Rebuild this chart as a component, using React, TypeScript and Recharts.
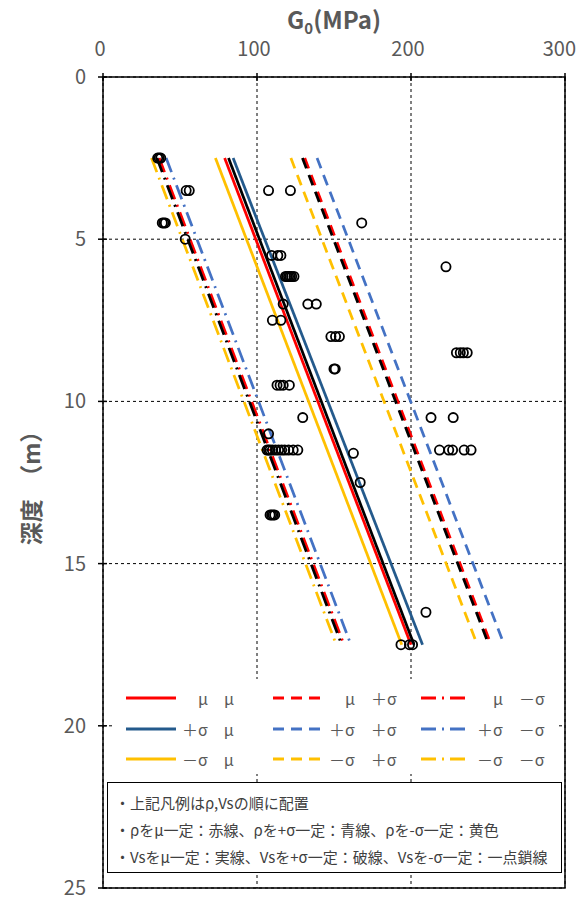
import React from "react";
import { ScatterChart, Scatter, XAxis, YAxis, CartesianGrid, ReferenceArea } from "recharts";

const X_TICKS = [0, 100, 200, 300];
const Y_TICKS = [0, 5, 10, 15, 20, 25];

// 各ケースの直線 (深度 2.5m と 17.5m の G0)
const LINE_DEPTH = [2.5, 17.5];
const G0_YELLOW_SOLID = [73, 194];
const G0_BLUE_SOLID = [84.5, 207.5];
const G0_RED_SOLID = [79, 200];
const G0_BLACK_SOLID = [81.5, 202];
const G0_YELLOW_DASH = [122, 243];
const G0_BLUE_DASH = [139, 260.5];
const G0_RED_DASH = [131, 252];
const G0_BLACK_DASH = [129.5, 250.5];
const G0_YELLOW_DASHDOT = [31.5, 151.5];
const G0_BLUE_DASHDOT = [41, 161];
const G0_RED_DASHDOT = [36.5, 156.5];
const G0_BLACK_DASHDOT = [35, 155];

// 実測値 (深度, G0)
const OBS_DEPTH = [
  2.5, 2.5, 2.5,
  3.5, 3.5, 3.5, 3.5,
  4.5, 4.5, 4.5, 4.5,
  5.0,
  5.5, 5.5, 5.5,
  5.85,
  6.15, 6.15, 6.15, 6.15, 6.15, 6.15,
  7.0, 7.0, 7.0,
  7.5, 7.5,
  8.0, 8.0, 8.0,
  8.5, 8.5, 8.5, 8.5,
  9.0, 9.0,
  9.5, 9.5, 9.5, 9.5,
  10.5, 10.5, 10.5,
  11.0,
  11.5, 11.5, 11.5, 11.5, 11.5, 11.5, 11.5, 11.5, 11.5, 11.5, 11.5,
  11.5, 11.5, 11.5, 11.5, 11.5,
  11.6,
  12.5,
  13.5, 13.5, 13.5, 13.5,
  16.5,
  17.5, 17.5, 17.5,
];
const OBS_G0 = [
  35.5, 36.5, 37.5,
  54, 56, 107.5, 121.7,
  38.5, 39.5, 40.5, 168,
  53.4,
  109.5, 113.5, 115.5,
  222.7,
  118.5, 119.5, 120.5, 121.5, 122.5, 124,
  117, 133, 138.5,
  110, 115.5,
  148, 151, 153.5,
  229.5, 232, 234, 236.5,
  150, 150.8,
  113, 115, 117, 121,
  129.7, 213, 227.4,
  107.5,
  106.5, 107.5, 108.5, 110, 112, 114, 116, 118, 120.5, 123.5, 126.5,
  218.5, 224.5, 227, 234.5, 239,
  162.6,
  167,
  108.5, 109.5, 110.5, 111.5,
  209.7,
  193.5, 199, 201,
];

const RED = "#ff0000";
const BLUE_DARK = "#245a8c";
const BLUE = "#4472c4";
const YELLOW = "#ffc000";
const BLACK = "#000000";
const DASH = "11 7";
const DASHDOT = "15 6 2 6";

const LINES = [
  { key: "ys", g0: G0_YELLOW_SOLID, color: YELLOW, dash: undefined },
  { key: "rs", g0: G0_RED_SOLID, color: RED, dash: undefined },
  { key: "ks", g0: G0_BLACK_SOLID, color: BLACK, dash: undefined },
  { key: "bs", g0: G0_BLUE_SOLID, color: BLUE_DARK, dash: undefined },
  { key: "yd", g0: G0_YELLOW_DASH, color: YELLOW, dash: DASH },
  { key: "bd", g0: G0_BLUE_DASH, color: BLUE, dash: DASH },
  { key: "rd", g0: G0_RED_DASH, color: RED, dash: DASH },
  { key: "kd", g0: G0_BLACK_DASH, color: BLACK, dash: DASH },
  { key: "ydd", g0: G0_YELLOW_DASHDOT, color: YELLOW, dash: DASHDOT },
  { key: "bdd", g0: G0_BLUE_DASHDOT, color: BLUE, dash: DASHDOT },
  { key: "rdd", g0: G0_RED_DASHDOT, color: RED, dash: DASHDOT },
  { key: "kdd", g0: G0_BLACK_DASHDOT, color: BLACK, dash: DASHDOT },
];

const LEGEND_ROWS = [
  [
    { label: "　μ　μ", color: RED, dash: undefined },
    { label: "　μ　＋σ", color: RED, dash: DASH },
    { label: "　μ　－σ", color: RED, dash: DASHDOT },
  ],
  [
    { label: "＋σ　μ", color: BLUE_DARK, dash: undefined },
    { label: "＋σ　＋σ", color: BLUE, dash: DASH },
    { label: "＋σ　－σ", color: BLUE, dash: DASHDOT },
  ],
  [
    { label: "－σ　μ", color: YELLOW, dash: undefined },
    { label: "－σ　＋σ", color: YELLOW, dash: DASH },
    { label: "－σ　－σ", color: YELLOW, dash: DASHDOT },
  ],
];

const NOTES = [
  "・上記凡例はρ,Vsの順に配置",
  "・ρをμ一定：赤線、ρを+σ一定：青線、ρを-σ一定：黄色",
  "・Vsをμ一定：実線、Vsを+σ一定：破線、Vsを-σ一定：一点鎖線",
];

const FONT = '"Noto Sans CJK JP", "Noto Sans", sans-serif';
const GREY = "#595959";

const obsData = OBS_DEPTH.map((d, i) => ({ d, g: OBS_G0[i] }));

const XTick = (p: any) => {
  // 右端のラベルは枠内に収まるよう右寄せ
  const last = p.payload.value === X_TICKS[X_TICKS.length - 1];
  return (
    <g>
      <line x1={p.x} x2={p.x} y1={p.y - 4} y2={p.y + 4} stroke="#000" strokeWidth={1.5} />
      <text x={last ? p.x + 11 : p.x - 3} y={p.y - 21} textAnchor={last ? "end" : "middle"} fontSize={20} fill={GREY} fontFamily={FONT}>
        {p.payload.value}
      </text>
    </g>
  );
};

const YTick = (p: any) => (
  <g>
    <line x1={p.x - 5} x2={p.x + 4} y1={p.y} y2={p.y} stroke="#000" strokeWidth={1.5} />
    <text x={p.x - 17} y={p.y + 7} textAnchor="end" fontSize={20} fill={GREY} fontFamily={FONT}>
      {p.payload.value}
    </text>
  </g>
);

const XTitle = (p: any) => {
  const vb = p.viewBox ?? { x: 103, y: 37, width: 462, height: 40 };
  return (
    <text x={vb.x + vb.width / 2} y={vb.y - 8} textAnchor="middle" fontSize={24} fontWeight="bold" fill={GREY} fontFamily={FONT}>
      G<tspan fontSize={15} dy={5}>0</tspan><tspan dy={-5}>(MPa)</tspan>
    </text>
  );
};

const YTitle = (p: any) => {
  const vb = p.viewBox ?? { x: 43, y: 77, width: 60, height: 811 };
  const cx = vb.x - 13;
  const cy = vb.y + vb.height / 2;
  return (
    <text x={cx} y={cy} transform={`rotate(-90 ${cx} ${cy})`} textAnchor="middle" dominantBaseline="central"
      fontSize={23} fontWeight="bold" fill={GREY} fontFamily={FONT}>
      深度　（m）
    </text>
  );
};

const OpenCircle = (p: any) => (
  <circle cx={p.cx} cy={p.cy} r={4.6} fill="none" stroke="#000" strokeWidth={1.8} />
);

const NoShape = () => <g />;

function Swatch({ color, dash }: { color: string; dash?: string }) {
  return (
    <svg width={50} height={10} style={{ display: "block", flex: "none" }}>
      <line x1={0} y1={5} x2={50} y2={5} stroke={color} strokeWidth={3} strokeDasharray={dash} />
    </svg>
  );
}

export default function App() {
  return (
    <div style={{ position: "absolute", left: 0, top: 0, width: 577, height: 900, background: "#fff", fontFamily: FONT }}>
      <ScatterChart width={577} height={900} margin={{ top: 37, right: 12, bottom: 12, left: 43 }}>
        <CartesianGrid stroke="#000" strokeDasharray="3 3" strokeWidth={1} />
        <XAxis type="number" dataKey="g" orientation="top" domain={[0, 300]} ticks={X_TICKS} interval={0}
          height={40} tickSize={0} tickMargin={0} axisLine={false} tickLine={false}
          tick={(p: any) => <XTick {...p} />} label={<XTitle />} allowDataOverflow />
        <YAxis type="number" dataKey="d" reversed domain={[0, 25]} ticks={Y_TICKS} interval={0}
          width={60} tickSize={0} tickMargin={0} axisLine={false} tickLine={false}
          tick={(p: any) => <YTick {...p} />} label={<YTitle />} allowDataOverflow />
        <ReferenceArea x1={0} x2={300} y1={0} y2={25} fill="none" fillOpacity={0} stroke="#000" strokeWidth={1.5} ifOverflow="visible" />
        {LINES.map(s => (
          <Scatter key={s.key} data={LINE_DEPTH.map((d, i) => ({ d, g: s.g0[i] }))} fill={s.color}
            line={{ stroke: s.color, strokeWidth: 2.75, strokeDasharray: s.dash }} shape={NoShape}
            isAnimationActive={false} legendType="none" />
        ))}
        <Scatter data={obsData} shape={OpenCircle} fill="#000" isAnimationActive={false} />
      </ScatterChart>

      <div style={{ position: "absolute", left: 113, top: 679, width: 445, height: 95, background: "#fff", paddingTop: 4, boxSizing: "border-box" }}>
        {LEGEND_ROWS.map((row, r) => (
          <div key={r} style={{ display: "flex", height: 30.5, alignItems: "center", paddingLeft: 13 }}>
            {row.map((it, c) => (
              <div key={c} style={{ display: "flex", alignItems: "center", width: c === 0 ? 147 : c === 1 ? 148 : 130 }}>
                <Swatch color={it.color} dash={it.dash} />
                <span style={{ marginLeft: 6, fontSize: 16, color: GREY, whiteSpace: "pre", lineHeight: "20px" }}>{it.label}</span>
              </div>
            ))}
          </div>
        ))}
      </div>

      <div style={{ position: "absolute", left: 107, top: 782, width: 455, height: 91, boxSizing: "border-box",
        border: "1.5px solid #000", background: "#fff", padding: "6px 0 0 7px" }}>
        {NOTES.map((t, i) => (
          <div key={i} style={{ fontSize: 15, lineHeight: "27px", color: "#404040", whiteSpace: "nowrap" }}>{t}</div>
        ))}
      </div>
    </div>
  );
}
